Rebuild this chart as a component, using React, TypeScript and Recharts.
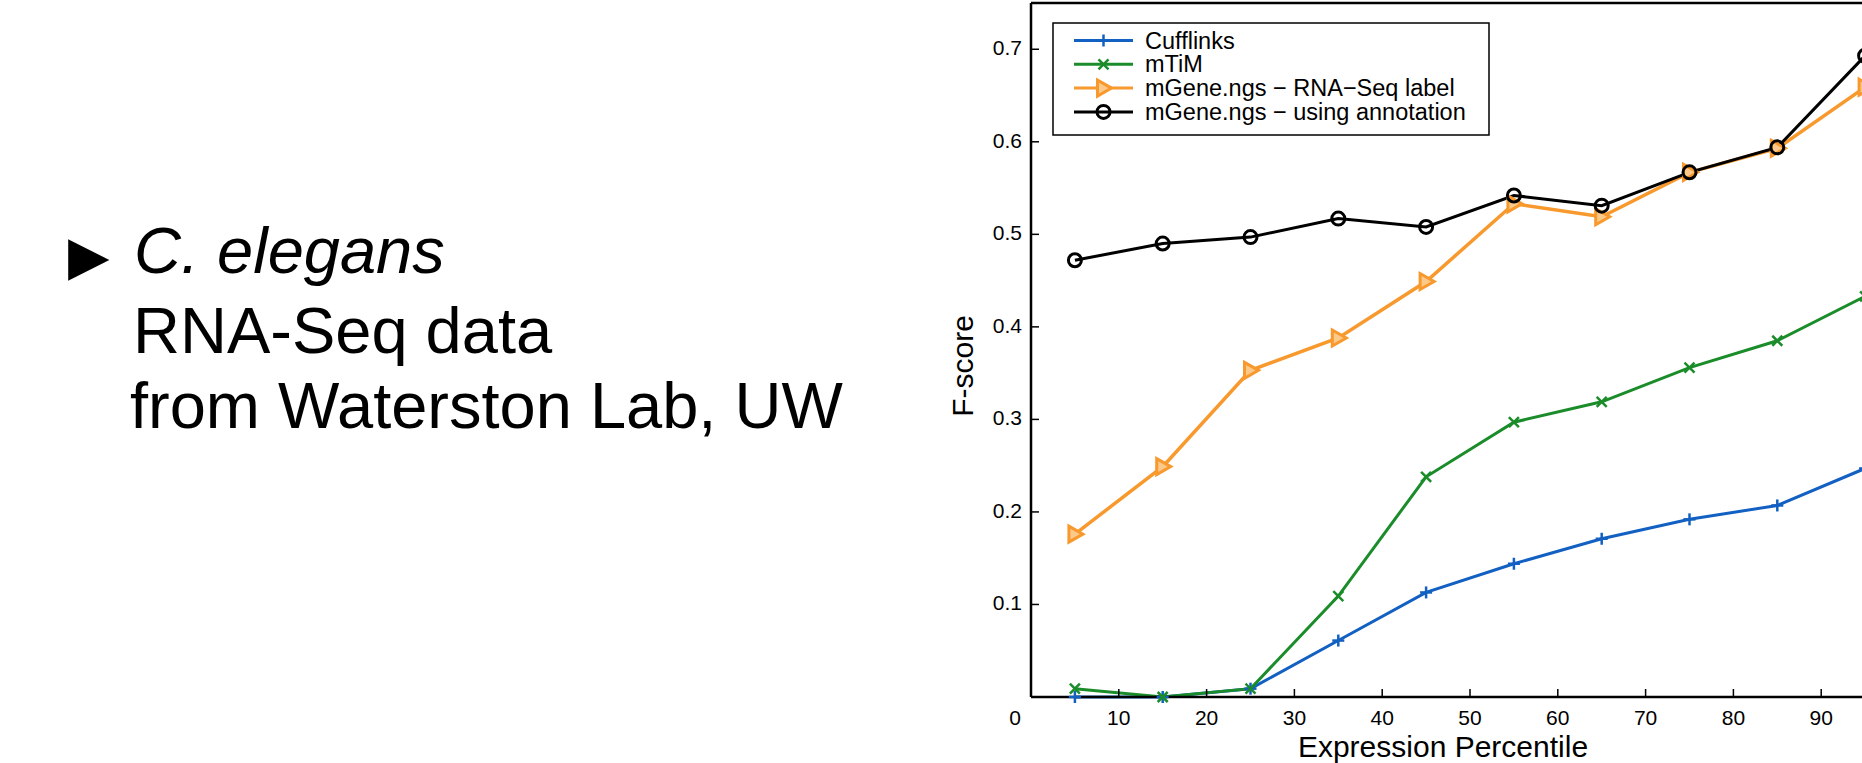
import React from 'react';
import { LineChart, Line, XAxis, YAxis, ReferenceLine } from 'recharts';

// expression percentile bins (x) and F-score per method
const percentiles = [5, 15, 25, 35, 45, 55, 65, 75, 85, 95];
const cufflinks = [0.0, 0.0, 0.009, 0.061, 0.113, 0.144, 0.171, 0.192, 0.207, 0.247];
const mtim = [0.009, 0.0, 0.009, 0.109, 0.238, 0.297, 0.319, 0.356, 0.385, 0.433];
const rnaSeqLabel = [0.176, 0.249, 0.353, 0.388, 0.449, 0.533, 0.519, 0.567, 0.593, 0.659];
const usingAnnotation = [0.472, 0.49, 0.497, 0.517, 0.508, 0.542, 0.531, 0.567, 0.594, 0.693];

const xTicks = [0, 10, 20, 30, 40, 50, 60, 70, 80, 90];
const yTicks = [0, 0.1, 0.2, 0.3, 0.4, 0.5, 0.6, 0.7];
const seriesNames = ['Cufflinks', 'mTiM', 'mGene.ngs \u2212 RNA\u2212Seq label', 'mGene.ngs \u2212 using annotation'];
const slideLines = ['C. elegans', 'RNA-Seq data', 'from Waterston Lab, UW'];

const BLUE = '#1260c2';
const GREEN = '#1a8c2a';
const ORANGE = '#f8992e';
const BLACK = '#000';
const FONT = '"Liberation Sans", Arial, Helvetica, sans-serif';

const data = percentiles.map((p, i) => ({
  p,
  cufflinks: cufflinks[i],
  mtim: mtim[i],
  rnaSeqLabel: rnaSeqLabel[i],
  usingAnnotation: usingAnnotation[i],
}));

// marker shapes, matlab style
const plusMark = (cx: number, cy: number, color: string, key?: any) => (
  <g key={key}>
    <line x1={cx - 6} y1={cy} x2={cx + 6} y2={cy} stroke={color} strokeWidth={2.5} />
    <line x1={cx} y1={cy - 6} x2={cx} y2={cy + 6} stroke={color} strokeWidth={2.5} />
  </g>
);
const crossMark = (cx: number, cy: number, color: string, key?: any) => (
  <g key={key}>
    <line x1={cx - 5} y1={cy - 5} x2={cx + 5} y2={cy + 5} stroke={color} strokeWidth={2.5} />
    <line x1={cx - 5} y1={cy + 5} x2={cx + 5} y2={cy - 5} stroke={color} strokeWidth={2.5} />
  </g>
);
const triMark = (cx: number, cy: number, color: string, key?: any) => (
  <polygon
    key={key}
    points={`${cx - 6},${cy - 8} ${cx + 8},${cy} ${cx - 6},${cy + 8}`}
    fill="#fbc98a"
    stroke={color}
    strokeWidth={3}
  />
);
const circleMark = (cx: number, cy: number, color: string, key?: any) => (
  <circle key={key} cx={cx} cy={cy} r={6.5} fill="none" stroke={color} strokeWidth={3} />
);

const markers = [plusMark, crossMark, triMark, circleMark];
const colors = [BLUE, GREEN, ORANGE, BLACK];

const dotFor = (idx: number) => (props: any) => {
  const { cx, cy, index } = props;
  if (cx == null || cy == null) return <g key={index} />;
  return markers[idx](cx, cy, colors[idx], index);
};

const XTick = (props: any) => {
  const { x, y, payload } = props;
  const v = payload.value;
  return (
    <g>
      {v !== 0 && <line x1={x} y1={y} x2={x} y2={y - 8} stroke="#000" strokeWidth={1.5} />}
      <text x={v === 0 ? x - 16 : x} y={y + 28} textAnchor="middle" fontSize={21} fontFamily={FONT} fill="#000">
        {v}
      </text>
    </g>
  );
};

const YTick = (props: any) => {
  const { x, y, payload } = props;
  const v = payload.value;
  if (v === 0) return <g />;
  return (
    <g>
      <line x1={x} y1={y} x2={x + 8} y2={y} stroke="#000" strokeWidth={1.5} />
      <text x={x - 9} y={y + 6} textAnchor="end" fontSize={21} fontFamily={FONT} fill="#000">
        {v.toFixed(1)}
      </text>
    </g>
  );
};

const App: React.FC = () => {
  const rowY = [18.5, 42.3, 66.1, 89.9];
  return (
    <div style={{ position: 'fixed', left: 0, top: 0, width: 1862, height: 763, overflow: 'hidden', background: '#fff' }}>
      <svg width={900} height={763} style={{ position: 'absolute', left: 0, top: 0 }}>
        <text x={68} y={274} fontSize={54} fontFamily='"DejaVu Sans", sans-serif' fill="#000">
          {'\u25B6'}
        </text>
        <text x={134} y={273} fontSize={65} fontStyle="italic" fontFamily={FONT} fill="#000">
          {slideLines[0]}
        </text>
        <text x={133} y={353} fontSize={65} fontFamily={FONT} fill="#000">
          {slideLines[1]}
        </text>
        <text x={130} y={428} fontSize={65} fontFamily={FONT} fill="#000">
          {slideLines[2]}
        </text>
      </svg>

      <LineChart
        width={1960}
        height={763}
        data={data}
        margin={{ top: 3, right: 51, bottom: 65, left: 1030 }}
        style={{ position: 'absolute', left: 0, top: 0 }}
      >
        <XAxis
          dataKey="p"
          type="number"
          domain={[0, 100]}
          ticks={xTicks}
          interval={0}
          height={1}
          tickSize={0}
          tickMargin={0}
          tickLine={false}
          axisLine={{ stroke: '#000', strokeWidth: 2.5 }}
          tick={<XTick />}
        />
        <YAxis
          type="number"
          domain={[0, 0.75]}
          ticks={yTicks}
          interval={0}
          width={1}
          tickSize={0}
          tickMargin={0}
          tickLine={false}
          axisLine={{ stroke: '#000', strokeWidth: 2.5 }}
          tick={<YTick />}
        />
        <ReferenceLine y={0.75} stroke="#000" strokeWidth={2.5} />
        <ReferenceLine x={100} stroke="#000" strokeWidth={2.5} />
        <Line type="linear" dataKey="cufflinks" stroke={BLUE} strokeWidth={3} dot={dotFor(0)} activeDot={false} isAnimationActive={false} />
        <Line type="linear" dataKey="mtim" stroke={GREEN} strokeWidth={3} dot={dotFor(1)} activeDot={false} isAnimationActive={false} />
        <Line type="linear" dataKey="rnaSeqLabel" stroke={ORANGE} strokeWidth={3.5} dot={dotFor(2)} activeDot={false} isAnimationActive={false} />
        <Line type="linear" dataKey="usingAnnotation" stroke={BLACK} strokeWidth={3} dot={dotFor(3)} activeDot={false} isAnimationActive={false} />
      </LineChart>

      {/* axis titles */}
      <svg width={1862} height={763} style={{ position: 'absolute', left: 0, top: 0, pointerEvents: 'none' }}>
        <text x={973} y={366} transform="rotate(-90 973 366)" textAnchor="middle" fontSize={30} fontFamily={FONT} fill="#000">
          F-score
        </text>
        <text x={1443} y={757} textAnchor="middle" fontSize={30} fontFamily={FONT} fill="#000">
          Expression Percentile
        </text>
      </svg>

      {/* legend */}
      <svg width={440} height={116} style={{ position: 'absolute', left: 1052, top: 22 }}>
        <rect x={1} y={1} width={436} height={112} fill="#fff" stroke="#000" strokeWidth={1.5} />
        {seriesNames.map((name, i) => (
          <g key={name}>
            <line x1={22} y1={rowY[i]} x2={81} y2={rowY[i]} stroke={colors[i]} strokeWidth={3} />
            {markers[i](51.5, rowY[i], colors[i])}
            <text x={93} y={rowY[i] + 8} fontSize={23.5} fontFamily={FONT} fill="#000">
              {name}
            </text>
          </g>
        ))}
      </svg>
    </div>
  );
};

export default App;
